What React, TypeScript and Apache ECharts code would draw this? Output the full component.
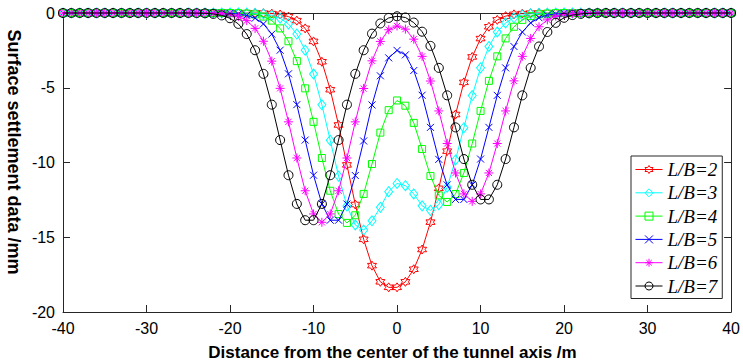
import React, { useEffect, useRef } from "react";
import * as echarts from "echarts";

const xs = [
  -40, -39, -38, -37, -36, -35, -34, -33, -32, -31,
  -30, -29, -28, -27, -26, -25, -24, -23, -22, -21,
  -20, -19, -18, -17, -16, -15, -14, -13, -12, -11,
  -10, -9, -8, -7, -6, -5, -4, -3, -2, -1,
  0,
  1, 2, 3, 4, 5, 6, 7, 8, 9, 10,
  11, 12, 13, 14, 15, 16, 17, 18, 19, 20,
  21, 22, 23, 24, 25, 26, 27, 28, 29, 30,
  31, 32, 33, 34, 35, 36, 37, 38, 39, 40,
];

const lb2 = [
  0, 0, 0, 0, 0, 0, 0, 0, 0, 0,
  0, 0, 0, 0, 0, 0, 0, 0, 0, 0,
  0, 0, 0, 0, -0.01, -0.04, -0.1, -0.24, -0.51, -1.03,
  -1.9, -3.26, -5.13, -7.49, -10.16, -12.81, -15.14, -16.9, -17.98, -18.35,
  -18.35,
  -17.98, -17.14, -15.82, -13.99, -11.73, -9.24, -6.79, -4.64, -2.94, -1.71,
  -0.92, -0.46, -0.21, -0.09, -0.04, -0.01, 0, 0, 0, 0,
  0, 0, 0, 0, 0, 0, 0, 0, 0, 0,
  0, 0, 0, 0, 0, 0, 0, 0, 0, 0,
];

const lb3 = [
  0, 0, 0, 0, 0, 0, 0, 0, 0, 0,
  0, 0, 0, 0, 0, 0, 0, 0, 0, 0,
  0, 0, -0.01, -0.02, -0.06, -0.16, -0.35, -0.73, -1.41, -2.49,
  -4.08, -6.14, -8.52, -10.91, -12.91, -14.18, -14.52, -13.9, -13.0, -11.95,
  -11.4,
  -11.55, -12.1, -12.9, -13.2, -12.82, -11.65, -9.83, -7.67, -5.52, -3.67,
  -2.24, -1.27, -0.66, -0.32, -0.14, -0.06, -0.02, -0.01, 0, 0,
  0, 0, 0, 0, 0, 0, 0, 0, 0, 0,
  0, 0, 0, 0, 0, 0, 0, 0, 0, 0,
];

const lb4 = [
  0, 0, 0, 0, 0, 0, 0, 0, 0, 0,
  0, 0, 0, 0, 0, 0, 0, 0, 0, 0,
  0, -0.01, -0.04, -0.1, -0.24, -0.51, -1.03, -1.89, -3.22, -5.04,
  -7.28, -9.7, -11.89, -13.45, -14.04, -13.53, -12.1, -10.1, -8.0, -6.5,
  -5.85,
  -6.2, -7.35, -9.1, -10.9, -12.2, -12.64, -12.11, -10.7, -8.73, -6.55,
  -4.54, -2.9, -1.7, -0.92, -0.46, -0.21, -0.09, -0.04, -0.01, 0,
  0, 0, 0, 0, 0, 0, 0, 0, 0, 0,
  0, 0, 0, 0, 0, 0, 0, 0, 0, 0,
];

const lb5 = [
  0, 0, 0, 0, 0, 0, 0, 0, 0, 0,
  0, 0, 0, 0, 0, 0, 0, 0, 0, -0.01,
  -0.02, -0.06, -0.16, -0.35, -0.73, -1.41, -2.49, -4.07, -6.13, -8.5,
  -10.85, -12.77, -13.86, -13.86, -12.78, -10.87, -8.56, -6.15, -4.2, -3.0,
  -2.5,
  -2.8, -3.85, -5.5, -7.65, -9.79, -11.5, -12.47, -12.47, -11.49, -9.77,
  -7.65, -5.51, -3.67, -2.24, -1.27, -0.66, -0.32, -0.14, -0.06, -0.02,
  -0.01, 0, 0, 0, 0, 0, 0, 0, 0, 0,
  0, 0, 0, 0, 0, 0, 0, 0, 0, 0,
];

const lb6 = [
  0, 0, 0, 0, 0, 0, 0, 0, 0, 0,
  0, 0, 0, 0, 0, 0, 0, 0, -0.01, -0.04,
  -0.1, -0.24, -0.51, -1.03, -1.89, -3.22, -5.04, -7.28, -9.7, -11.89,
  -13.44, -14.0, -13.44, -11.89, -9.7, -7.28, -5.05, -3.2, -1.9, -1.12,
  -0.87,
  -1.08, -1.75, -2.9, -4.55, -6.55, -8.73, -10.7, -12.1, -12.6, -12.1,
  -10.7, -8.73, -6.55, -4.54, -2.9, -1.7, -0.92, -0.46, -0.21, -0.09,
  -0.04, -0.01, 0, 0, 0, 0, 0, 0, 0, 0,
  0, 0, 0, 0, 0, 0, 0, 0, 0, 0,
];

const lb7 = [
  0, 0, 0, 0, 0, 0, 0, 0, 0, 0,
  0, 0, 0, 0, 0, 0, -0.01, -0.02, -0.06, -0.16,
  -0.35, -0.73, -1.41, -2.49, -4.07, -6.13, -8.5, -10.85, -12.77, -13.86,
  -13.86, -12.77, -10.85, -8.5, -6.13, -4.07, -2.49, -1.38, -0.7, -0.33,
  -0.22,
  -0.3, -0.64, -1.25, -2.2, -3.67, -5.51, -7.65, -9.77, -11.49, -12.47,
  -12.47, -11.49, -9.77, -7.65, -5.51, -3.67, -2.24, -1.27, -0.66, -0.32,
  -0.14, -0.06, -0.02, -0.01, 0, 0, 0, 0, 0, 0,
  0, 0, 0, 0, 0, 0, 0, 0, 0, 0,
];

const seriesNames = ["L/B=2", "L/B=3", "L/B=4", "L/B=5", "L/B=6", "L/B=7"];
const seriesValues = [lb2, lb3, lb4, lb5, lb6, lb7];
const seriesColors = ["#ff0000", "#00ffff", "#00ff00", "#0000ff", "#ff00ff", "#000000"];

const HEXAGRAM =
  "path://M10 0L7.12 5L1.34 5L4.23 10L1.34 15L7.12 15L10 20L12.88 15L18.66 15L15.77 10L18.66 5L12.88 5Z";
const XMARK = "path://M0 0L10 10M10 0L0 10";
const ASTER = "path://M5 0L5 10M0 5L10 5M1.6 1.6L8.4 8.4M8.4 1.6L1.6 8.4";
const seriesSymbols = [HEXAGRAM, "diamond", "rect", XMARK, ASTER, "circle"];
const seriesSymbolSizes: any[] = [9, [8, 10], 7, 7, 9, 9];

const xTicks = { min: -40, max: 40, interval: 10 };
const yTicks = { min: -20, max: 0, interval: 5 };

const AXIS_COLOR = "#262626";
const SANS = '"Liberation Sans", Arial, Helvetica, sans-serif';
const SERIF = '"Liberation Serif", "Times New Roman", serif';
const CLEAR = "rgba(0,0,0,0)";

export default function App() {
  const ref = useRef<HTMLDivElement>(null);

  useEffect(() => {
    if (!ref.current) return;
    const chart = echarts.init(ref.current, null, { renderer: "svg" });

    const axisBase = {
      type: "value" as const,
      axisLine: { show: true, onZero: false, lineStyle: { color: AXIS_COLOR, width: 1 } },
      axisTick: { show: true, inside: true, length: 7, lineStyle: { color: AXIS_COLOR, width: 1 } },
      splitLine: { show: false },
    };

    const series = seriesNames.map((name, k) => ({
      type: "line",
      name,
      data: xs.map((x, i) => [x, seriesValues[k][i]]),
      symbol: seriesSymbols[k],
      symbolSize: seriesSymbolSizes[k],
      showSymbol: true,
      showAllSymbol: true,
      clip: false,
      lineStyle: { color: seriesColors[k], width: 1 },
      itemStyle: { color: CLEAR, borderColor: seriesColors[k], borderWidth: 1 },
      emphasis: { disabled: true },
      z: 2 + k,
    }));

    chart.setOption({
      animation: false,
      grid: { left: 63, top: 13, width: 670, height: 299 },
      xAxis: [
        {
          ...axisBase,
          ...xTicks,
          position: "bottom",
          axisLabel: { fontSize: 16, color: "#000", margin: 8, fontFamily: SANS },
        },
        {
          ...axisBase,
          ...xTicks,
          position: "top",
          axisLabel: { show: false },
        },
      ],
      yAxis: [
        {
          ...axisBase,
          ...yTicks,
          position: "left",
          axisLabel: { fontSize: 16, color: "#000", margin: 8, fontFamily: SANS },
        },
        {
          ...axisBase,
          ...yTicks,
          position: "right",
          axisLabel: { show: false },
        },
      ],
      legend: {
        orient: "vertical",
        left: 631,
        top: 156,
        padding: [4, 5, 3, 4],
        itemWidth: 27,
        itemHeight: 10,
        itemGap: 4.3,
        itemTextGap: 2,
        borderColor: AXIS_COLOR,
        borderWidth: 1,
        borderRadius: 0,
        backgroundColor: "#ffffff",
        selectedMode: false,
        itemStyle: { color: CLEAR, borderWidth: 1 },
        textStyle: {
          fontFamily: SERIF,
          fontStyle: "italic",
          fontSize: 19,
          lineHeight: 19,
          color: "#000",
        },
        data: seriesNames.map((name, k) => ({
          name,
          itemStyle: { color: CLEAR, borderColor: seriesColors[k], borderWidth: 1 },
          lineStyle: { color: seriesColors[k], width: 1 },
        })),
      },
      graphic: [
        {
          type: "text",
          x: 392.5,
          y: 352.5,
          style: {
            text: "Distance from the center of the tunnel axis /m",
            fontFamily: SANS,
            fontWeight: "bold",
            fontSize: 17,
            fill: "#000",
            align: "center",
            verticalAlign: "middle",
          },
        },
        {
          type: "text",
          x: 14,
          y: 152,
          rotation: -Math.PI / 2,
          style: {
            text: "Surface settlement data /mm",
            fontFamily: SANS,
            fontWeight: "bold",
            fontSize: 18,
            fill: "#000",
            align: "center",
            verticalAlign: "middle",
          },
        },
      ],
      series,
    });

    return () => chart.dispose();
  }, []);

  return (
    <div
      ref={ref}
      style={{ position: "absolute", left: 0, top: 0, width: 743, height: 364, background: "#fff" }}
    />
  );
}
